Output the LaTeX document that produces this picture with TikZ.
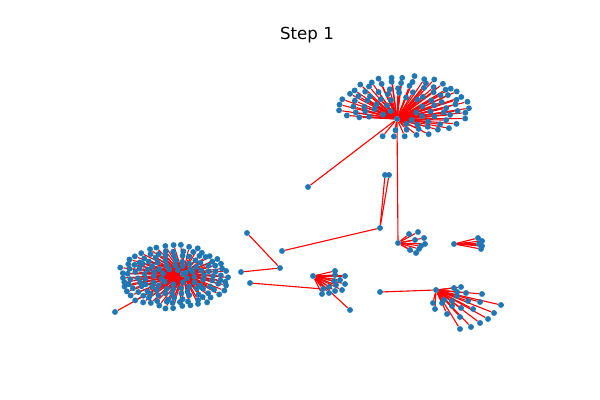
\documentclass[tikz,border=0pt]{standalone}
\usepackage{fontspec}
\setmainfont{DejaVu Sans}
\usetikzlibrary{backgrounds}
\definecolor{nodeblue}{RGB}{31,119,180}
\tikzset{
  dot/.style={circle,fill=nodeblue,inner sep=0pt,minimum size=1.5mm},
  edge/.style={red,line width=0.8pt}
}

\begin{document}
\begin{tikzpicture}[x=0.254mm,y=-0.254mm]
\useasboundingbox (0,0) rectangle (600,400);
\node (title) at (307,35) {\fontsize{12}{14}\selectfont Step 1};
\pgfmathsetseed{11}

% top cluster
\node[dot] (t) at (397,119) {};
\foreach \r/\n [count=\j] in {1/30,0.82/25,0.64/19,0.46/13,0.28/7}{
  \foreach \i in {1,...,\n}{
    \pgfmathsetmacro\ang{-125+\j*9+(\i-0.5+0.3*rnd)*318/\n}
    \pgfmathsetmacro\rr{\r*(0.93+0.14*rnd)}
    \node[dot] (t\j-\i) at ({404+63*\rr*cos(\ang)},{106-30*\rr*sin(\ang)}) {};
    \begin{pgfonlayer}{background}\draw[edge] (t) -- (t\j-\i);\end{pgfonlayer}
  }
}

% left cluster
\node[dot] (l) at (183,274) {};
\foreach \r/\n [count=\j] in {1/40,0.85/34,0.7/28,0.55/22,0.4/16,0.25/9}{
  \foreach \i in {1,...,\n}{
    \pgfmathsetmacro\ang{\j*17+(\i+0.4*rnd)*360/\n}
    \pgfmathsetmacro\rr{\r*(0.93+0.12*rnd)}
    \node[dot] (l\j-\i) at ({174+54*\rr*cos(\ang)},{277-31*\rr*sin(\ang)}) {};
    \begin{pgfonlayer}{background}\draw[edge] (l) -- (l\j-\i);\end{pgfonlayer}
  }
}
\node[dot] (l0) at (115,312) {};

% middle cluster
\node[dot] (m) at (398,243) {};
\foreach \x/\y [count=\i] in {409/234,418/232,424/238,425/244,415/240,419/249,410/250,416/253,421/246}
  \node[dot] (m\i) at (\x,\y) {};

% small cluster
\node[dot] (s) at (454,244) {};
\foreach \x/\y [count=\i] in {478/238,482/241,482/246,481/249,479/244}
  \node[dot] (s\i) at (\x,\y) {};

% cluster below
\node[dot] (c) at (313,276) {};
\foreach \x/\y [count=\i] in {335/271,335/275,345/276,340/280,345/284,334/281,329/287,323/289,322/294,329/293,335/291,342/290,336/285}
  \node[dot] (c\i) at (\x,\y) {};

% bottom right fan
\node[dot] (f) at (436,290) {};
\foreach \x/\y [count=\i] in {454/288,461/287,466/293,482/294,501/305,494/313,488/319,480/323,471/327,460/329,460/317,447/314,435/309,433/303,442/303,444/300,452/306,452/301,457/296,468/301,480/302,473/309,461/308,457/292}
  \node[dot] (f\i) at (\x,\y) {};

% loose nodes
\node[dot] (a) at (308,187) {};
\node[dot] (b) at (380,228) {};
\node[dot] (b1) at (385,175) {};
\node[dot] (b2) at (389,175) {};
\node[dot] (d) at (282,251) {};
\node[dot] (e) at (280,268) {};
\node[dot] (e1) at (247,233) {};
\node[dot] (e2) at (241,272) {};
\node[dot] (g) at (250,283) {};
\node[dot] (h) at (350,310) {};
\node[dot] (k) at (380,292) {};

\begin{pgfonlayer}{background}
\draw[edge] (l) -- (l0);
\foreach \i in {1,...,9} \draw[edge] (m) -- (m\i);
\foreach \i in {1,...,5} \draw[edge] (s) -- (s\i);
\foreach \i in {1,...,13} \draw[edge] (c) -- (c\i);
\foreach \i in {1,...,24} \draw[edge] (f) -- (f\i);
\draw[edge] (t) -- (a);
\draw[edge] (t) -- (m);
\draw[edge] (b) -- (b1);
\draw[edge] (b) -- (b2);
\draw[edge] (b) -- (d);
\draw[edge] (e) -- (e1);
\draw[edge] (e) -- (e2);
\draw[edge] (g) -- (c8);
\draw[edge] (c) -- (h);
\draw[edge] (k) -- (f);
\end{pgfonlayer}
\end{tikzpicture}
\end{document}
